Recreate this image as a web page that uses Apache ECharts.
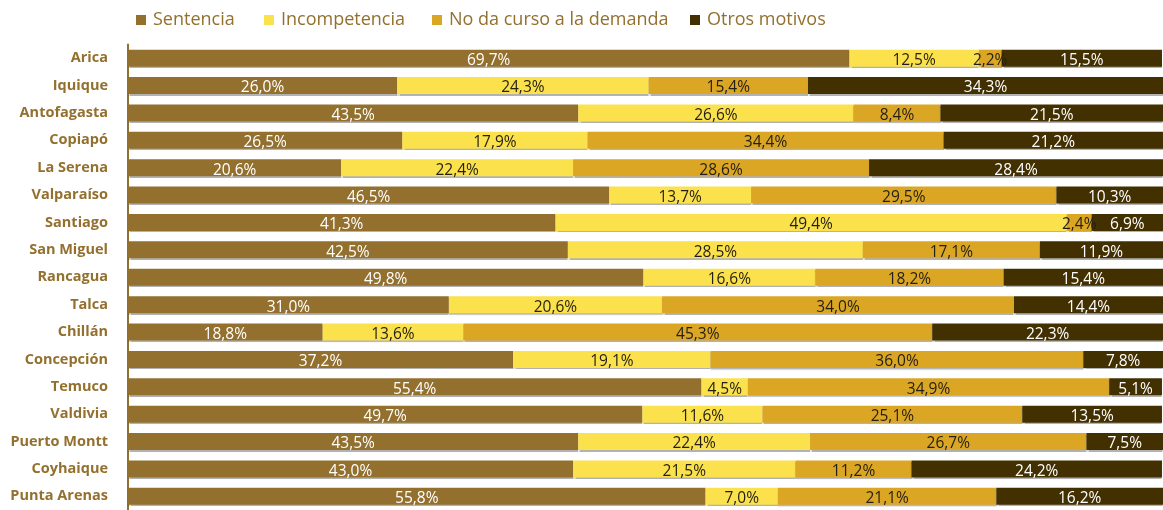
<!DOCTYPE html>
<html>
<head>
<meta charset="utf-8">
<script src="https://cdn.jsdelivr.net/npm/echarts@6/dist/echarts.min.js"></script>
<style>html,body{margin:0;padding:0;background:#fff}#c{width:1163px;height:510px}</style>
</head>
<body>
<div id="c"></div>
<script>
const categories = ["Arica","Iquique","Antofagasta","Copiapó","La Serena","Valparaíso","Santiago","San Miguel","Rancagua","Talca","Chillán","Concepción","Temuco","Valdivia","Puerto Montt","Coyhaique","Punta Arenas"];
const seriesNames = ["Sentencia","Incompetencia","No da curso a la demanda","Otros motivos"];
const sentencia     = [69.7,26.0,43.5,26.5,20.6,46.5,41.3,42.5,49.8,31.0,18.8,37.2,55.4,49.7,43.5,43.0,55.8];
const incompetencia = [12.5,24.3,26.6,17.9,22.4,13.7,49.4,28.5,16.6,20.6,13.6,19.1,4.5,11.6,22.4,21.5,7.0];
const noDaCurso     = [2.2,15.4,8.4,34.4,28.6,29.5,2.4,17.1,18.2,34.0,45.3,36.0,34.9,25.1,26.7,11.2,21.1];
const otros         = [15.5,34.3,21.5,21.2,28.4,10.3,6.9,11.9,15.4,14.4,22.3,7.8,5.1,13.5,7.5,24.2,16.2];

const colors = ["#93702E","#FBE14B","#DBA624","#433000"];
const labelColors = ["#ffffff","#231f14","#231f14","#ffffff"];
const values = [sentencia, incompetencia, noDaCurso, otros];
const legendLeft = [131, 259, 427, 685];
const FONT = "'Open Sans', sans-serif";

const chart = echarts.init(document.getElementById('c'), null, {renderer:'canvas'});
chart.setOption({
  animation:false,
  color: colors,
  textStyle:{fontFamily:FONT},
  legend: seriesNames.map((n,i)=>({
    top:6, left:legendLeft[i],
    itemWidth:10, itemHeight:10, icon:'rect',
    textStyle:{color:'#93702E', fontSize:18, fontFamily:FONT, padding:[0,0,0,2]},
    data:[n]
  })),
  grid:{left:128, top:44.5, width:1043, height:467.5, containLabel:false},
  xAxis:{type:'value', min:0, max:100, show:false},
  yAxis:{
    type:'category', inverse:true, data:categories,
    axisLine:{show:true, lineStyle:{color:'#93702E', width:2}},
    axisTick:{show:false},
    axisLabel:{color:'#93702E', fontWeight:'bold', fontSize:14.5, margin:20, fontFamily:FONT}
  },
  series: seriesNames.map((n,i)=>({
    name:n, type:'bar', stack:'t', barWidth:17,
    data: values[i],
    itemStyle:{color:colors[i], shadowColor:'rgba(0,0,0,0.3)', shadowOffsetY:1.5, shadowBlur:1},
    label:{show:true, position:'inside', offset:[0,2.5], color:labelColors[i], fontSize:15.5, fontFamily:FONT,
      formatter: p => p.value.toFixed(1).replace('.',',') + '%'}
  }))
});
</script>
</body>
</html>
